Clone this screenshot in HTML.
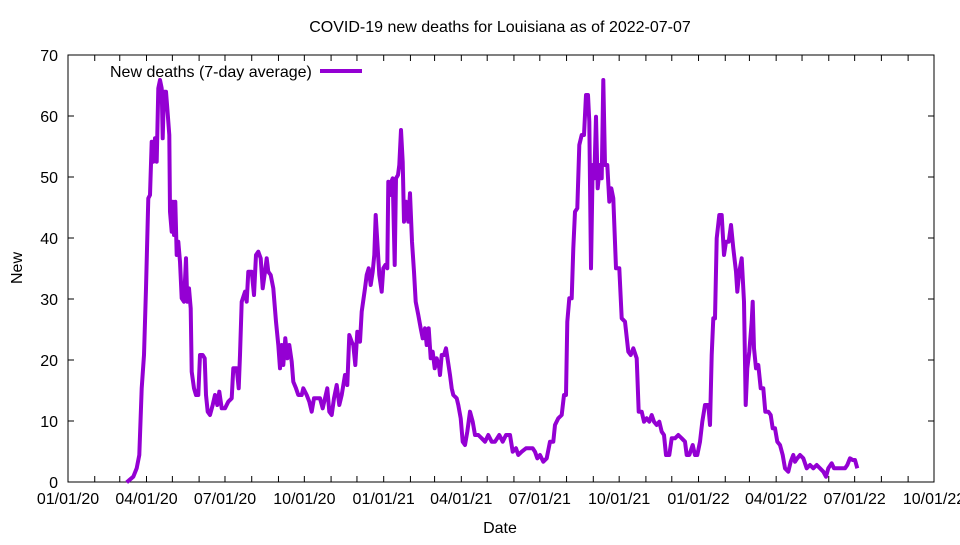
<!DOCTYPE html>
<html><head><meta charset="utf-8"><style>
body{margin:0;background:#fff}
svg text{font-family:"Liberation Sans",sans-serif;font-size:16px;fill:#000}
</style></head><body>
<svg id="s" width="960" height="540" xmlns="http://www.w3.org/2000/svg">
<rect width="960" height="540" fill="#fff"/>
<text x="500" y="32" text-anchor="middle">COVID-19 new deaths for Louisiana as of 2022-07-07</text>
<g id="ax"></g>
<rect x="68" y="55" width="866" height="427" fill="none" stroke="#000" stroke-width="1"/>
<text x="500" y="533" text-anchor="middle">Date</text>
<text transform="translate(22,268) rotate(-90)" text-anchor="middle">New</text>
<text x="110" y="77">New deaths (7-day average)</text>
<line x1="320" y1="71" x2="362" y2="71" stroke="#9400d3" stroke-width="4"/>
<polyline id="p" fill="none" stroke="#9400d3" stroke-width="4" stroke-linejoin="round"/>
</svg>
<script>
var NS="http://www.w3.org/2000/svg",ax=document.getElementById("ax");
function el(t,a,txt){var e=document.createElementNS(NS,t);for(var k in a)e.setAttribute(k,a[k]);if(txt)e.textContent=txt;ax.appendChild(e);}
for(var v=0;v<=70;v+=10){var y=482-v*6.1;
el("line",{x1:68,y1:y,x2:74,y2:y,stroke:"#000"});el("line",{x1:928,y1:y,x2:934,y2:y,stroke:"#000"});
el("text",{x:58,y:y+6,"text-anchor":"end"},""+v);}
var labs=["01/01/20","04/01/20","07/01/20","10/01/20","01/01/21","04/01/21","07/01/21","10/01/21","01/01/22","04/01/22","07/01/22","10/01/22"];
var start=Date.UTC(2020,0,1),ppd=866/1004;
for(var m=0;m<=33;m++){var d=Date.UTC(2020,m,1);var x=68+(d-start)/864e5*ppd;
el("line",{x1:x,y1:482,x2:x,y2:476,stroke:"#000"});el("line",{x1:x,y1:55,x2:x,y2:61,stroke:"#000"});
if(m%3==0)el("text",{x:x,y:504,"text-anchor":"middle"},labs[m/3]);}
var z1=[80,1282,100,1265,110,1240,118,1200,125,1000,132,900,138,700,145,430,150,420,155,260,160,320,165,250,170,320,175,100,180,75,185,100,188,250,192,110,198,110,202,160,208,240,210,470,215,530,218,440,222,540,226,440,230,600,235,560,240,620,245,730,252,740,258,610,262,740,267,700,272,760,275,950,282,1000,288,1020,295,1020,300,900,308,900,314,910,318,1020,323,1070,330,1080,338,1050,345,1020,352,1050,358,1010,365,1060,375,1060,385,1040,395,1030,400,940,410,940,416,1000,420,900,425,740,435,710,440,740,445,650,455,650,462,720,468,600,475,590,482,610,488,700,495,650,500,610,505,650,512,660,520,700,528,800,535,870,540,940,545,870,550,930,556,850,562,910,568,870,575,920,580,980,588,1000,595,1020,605,1020,610,1000,620,1020,628,1040,635,1070,642,1030,650,1030,660,1030,668,1060,675,1030,682,1000,688,1070,695,1080,702,1030,710,990,718,1050,725,1020,735,960,742,990,748,840,755,860,760,870,766,930,772,830,780,860,785,770,795,700,800,660,806,640,812,690,818,650,823,600,827,480,833,580,838,660,845,710,850,640,856,630,862,640,865,380,870,420,874,380,878,370,884,630,888,370,894,360,898,330,903,225,908,320,912,500,918,440,925,500,930,415,936,560,942,650,947,740,955,780,962,820,968,850,975,820,980,870,986,820,992,910,998,890,1004,940,1010,910,1018,940];
var z2=[0,960,5,900,12,900,18,880,24,920,30,960,35,1000,40,1020,50,1030,55,1050,62,1090,68,1160,75,1170,82,1130,90,1070,98,1100,105,1140,115,1140,125,1150,135,1160,145,1140,155,1160,165,1160,178,1140,188,1160,198,1140,210,1140,218,1190,228,1180,235,1200,245,1190,258,1180,268,1180,278,1180,285,1190,292,1210,300,1200,310,1220,320,1210,330,1160,340,1160,345,1110,355,1090,365,1080,372,1020,378,1020,382,800,388,730,395,730,400,580,405,470,412,460,418,270,425,240,432,240,438,120,444,120,448,200,453,640,458,330,463,370,468,185,473,400,480,330,485,370,490,75,495,330,502,330,508,440,514,400,520,430,528,640,538,640,545,790,555,800,565,890,572,900,580,880,590,910,596,1070,605,1070,612,1100,620,1090,628,1100,635,1080,642,1100,650,1110,658,1100,665,1130,672,1140,678,1200,688,1200,695,1150,705,1150,715,1140,725,1150,735,1160,740,1200,748,1200,758,1170,765,1200,772,1200,780,1160,787,1100,795,1050,805,1050,810,1110,815,900,820,790,825,790,830,550,838,480,845,480,852,600,858,560,866,560,873,510,880,580,888,650,892,710,898,650,905,610,912,740,917,1050,922,940,928,890,935,800,938,740,942,880,948,940,955,930,962,1000,970,1000,976,1070,985,1070,992,1080,998,1120,1005,1120,1012,1160,1020,1170,1028,1200,1035,1240,1045,1250,1052,1220,1060,1200,1065,1220,1072,1210,1080,1200,1090,1210,1100,1240,1110,1230,1120,1240,1130,1230,1140,1240,1150,1250,1158,1265,1165,1240,1175,1225,1182,1240,1195,1240,1205,1240,1215,1240,1222,1230,1230,1210,1238,1215,1245,1215,1252,1240];
var pts=[];
for(var i=0;i<z1.length;i+=2)pts.push((100+z1[i]/3).toFixed(1)+","+(55+z1[i+1]/3).toFixed(1));
for(var i=0;i<z2.length;i+=2)pts.push((440+z2[i]/3).toFixed(1)+","+(55+z2[i+1]/3).toFixed(1));
document.getElementById("p").setAttribute("points",pts.join(" "));
</script>
</body></html>
